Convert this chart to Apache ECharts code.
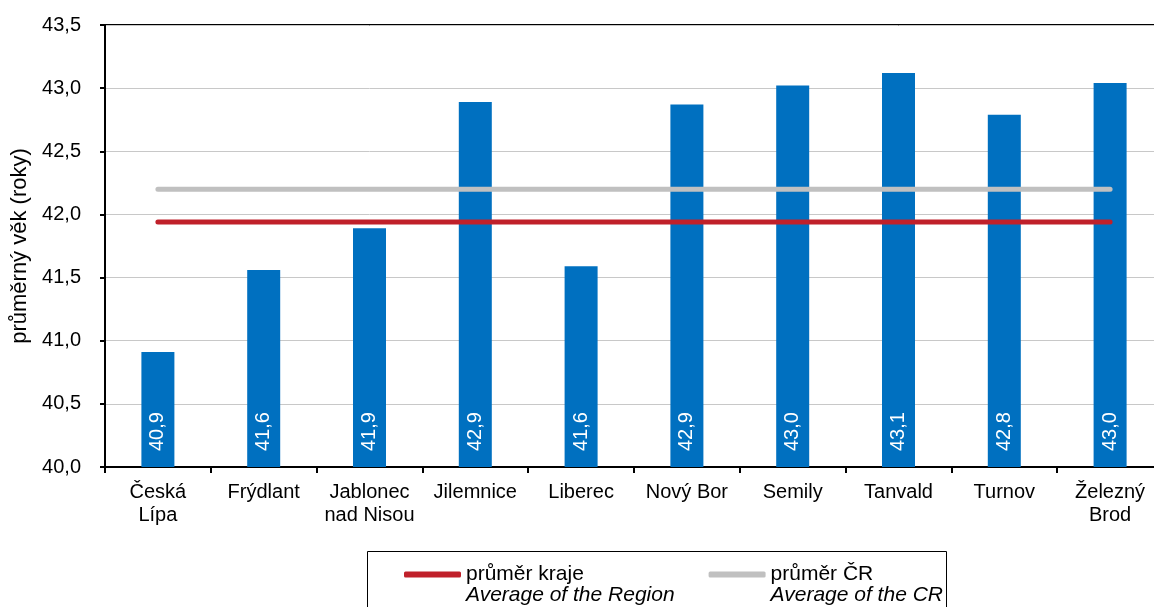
<!DOCTYPE html>
<html>
<head>
<meta charset="utf-8">
<script src="https://cdn.jsdelivr.net/npm/echarts@6/dist/echarts.min.js"></script>
<style>
  html, body { margin: 0; padding: 0; background: #fff; overflow: hidden; }
  /* a bit wider than the window: the plot runs past the right edge */
  #chart { width: 1163px; height: 607px; }
</style>
</head>
<body>
<div id="chart"></div>
<script>
// data
const districts = ['Česká\nLípa', 'Frýdlant', 'Jablonec\nnad Nisou', 'Jilemnice', 'Liberec', 'Nový Bor', 'Semily', 'Tanvald', 'Turnov', 'Železný\nBrod']
const avgAge = [40.91, 41.56, 41.89, 42.89, 41.59, 42.87, 43.02, 43.12, 42.79, 43.04]
const regionAvg = [41.94, 41.94, 41.94, 41.94, 41.94, 41.94, 41.94, 41.94, 41.94, 41.94]
const czAvg = [42.20, 42.20, 42.20, 42.20, 42.20, 42.20, 42.20, 42.20, 42.20, 42.20]
const lineNames = ['průměr kraje', 'průměr ČR']
const lineNamesEn = ['Average of the Region', 'Average of the CR']

const fontFamily = '"Liberation Sans", Arial, sans-serif'
const fmt = v => v.toFixed(1).replace('.', ',')

const chart = echarts.init(document.getElementById('chart'))

chart.setOption({
  animation: false,
  textStyle: { fontFamily, color: '#000' },
  grid: {
    left: 105,
    top: 25,
    bottom: 140,
    right: 0,
    show: true,
    borderColor: '#000',
    borderWidth: 2,
    backgroundColor: 'transparent'
  },
  xAxis: {
    type: 'category',
    data: districts,
    axisLine: { lineStyle: { color: '#000', width: 2 } },
    axisTick: { show: true, length: 6, lineStyle: { color: '#000', width: 2 } },
    axisLabel: {
      fontSize: 20,
      lineHeight: 23,
      color: '#000',
      margin: 14,
      interval: 0
    }
  },
  yAxis: {
    type: 'value',
    min: 40,
    max: 43.5,
    interval: 0.5,
    name: 'průměrný věk (roky)',
    nameLocation: 'middle',
    nameGap: 74,
    nameTextStyle: { fontSize: 22, color: '#000' },
    axisLine: { show: true, lineStyle: { color: '#000', width: 2 } },
    axisTick: { show: true, length: 5, lineStyle: { color: '#000', width: 2 } },
    axisLabel: {
      fontSize: 20,
      color: '#000',
      margin: 24,
      formatter: v => fmt(v)
    },
    splitLine: { lineStyle: { color: '#c8c8c8', width: 1 } }
  },
  legend: {
    data: lineNames,
    left: 404,
    top: 564,
    padding: 0,
    itemGap: 34,
    icon: 'roundRect',
    itemWidth: 57,
    itemHeight: 6,
    textStyle: {
      padding: [21, 0, 0, 0],
      rich: {
        a: { fontSize: 21, lineHeight: 21, color: '#000', fontFamily },
        b: { fontSize: 21, lineHeight: 21, color: '#000', fontStyle: 'italic', fontFamily }
      }
    },
    formatter: name => `{a|${name}}\n{b|${lineNamesEn[lineNames.indexOf(name)]}}`
  },
  graphic: [{
    type: 'rect',
    left: 365,
    top: 549,
    shape: { width: 579, height: 80 },
    style: { fill: 'none', stroke: '#000', lineWidth: 1 },
    silent: true
  }],
  series: [
    {
      type: 'bar',
      data: avgAge,
      barWidth: 33,
      itemStyle: { color: '#0070c0' },
      label: {
        show: true,
        position: 'insideBottom',
        distance: 16,
        rotate: 90,
        align: 'left',
        verticalAlign: 'middle',
        color: '#fff',
        fontSize: 20,
        formatter: p => fmt(p.value)
      },
      z: 2
    },
    {
      name: lineNames[0],
      type: 'line',
      data: regionAvg,
      symbol: 'none',
      lineStyle: { color: '#c0202a', width: 5, cap: 'round' },
      itemStyle: { color: '#c0202a' },
      z: 4
    },
    {
      name: lineNames[1],
      type: 'line',
      data: czAvg,
      symbol: 'none',
      lineStyle: { color: '#c0c0c0', width: 5, cap: 'round' },
      itemStyle: { color: '#c0c0c0' },
      z: 3
    }
  ]
})
</script>
</body>
</html>
